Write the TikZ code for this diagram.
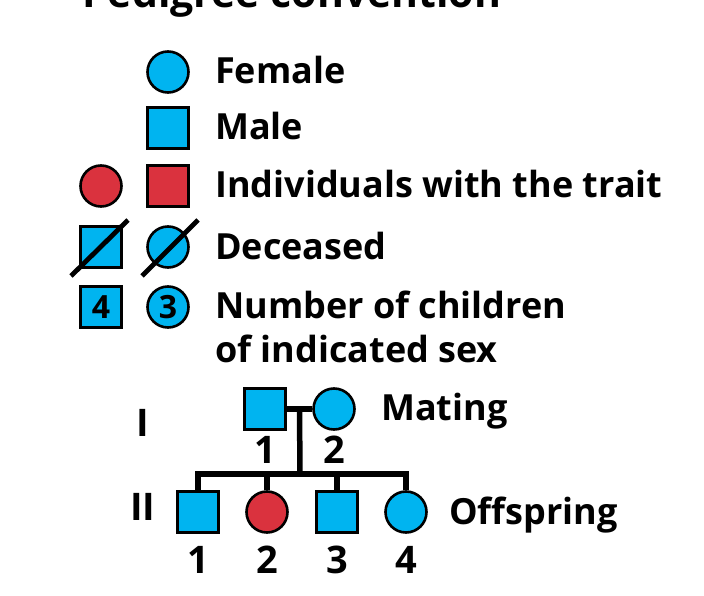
\documentclass[tikz,border=0pt]{standalone}
\usepackage{fontspec}
\setmainfont{Open Sans}
\usetikzlibrary{positioning,calc}
\definecolor{pblue}{RGB}{0,180,240}
\definecolor{pred}{RGB}{218,50,62}
\begin{document}
\begin{tikzpicture}[x=1pt,y=-1pt,font=\bfseries\fontsize{36}{43}\selectfont,
    fem/.style={circle,draw,line width=2.6pt,fill=pblue,minimum size=41pt,inner sep=0pt},
    mal/.style={rectangle,draw,line width=2.6pt,fill=pblue,minimum size=41pt,inner sep=0pt},
    lbl/.style={anchor=base west,inner sep=0pt},
    num/.style={inner sep=0pt,font=\bfseries\fontsize{38}{44}\selectfont},
    line/.style={line width=5.5pt}]
    \useasboundingbox (0,0) rectangle (704,596);
    % title, cut at the top
    \node[anchor=base west,inner sep=0pt,font=\bfseries\fontsize{41}{48}\selectfont] (title) at (82,8) {Pedigree convention};
    % legend
    \node[fem] (female) at (168,72) {};
    \node[mal] (male) at (168,128) {};
    \node[fem,fill=pred] (trF) at (101,186) {};
    \node[mal,fill=pred] (trM) at (168,186) {};
    \node[mal] (deadM) at (101,247) {};
    \node[fem] (deadF) at (168,247) {};
    \draw[line width=4.8pt] ([shift={(-30,29)}]deadM.center) -- ([shift={(27,-27)}]deadM.center);
    \draw[line width=4.8pt] ([shift={(-26,29)}]deadF.center) -- ([shift={(30,-27)}]deadF.center);
    \node[mal,font=\bfseries\fontsize{32}{36}\selectfont] (numM) at (101,307) {4};
    \node[fem,font=\bfseries\fontsize{32}{36}\selectfont] (numF) at (168,307) {3};
    \node[lbl] (tFemale) at (215,84) {Female};
    \node[lbl] (tMale) at (215,140) {Male};
    \node[lbl] (tTrait) at (215,198) {Individuals with the trait};
    \node[lbl] (tDead) at (215,259) {Deceased};
    \node[lbl] (tNum) at (215,318) {Number of children};
    \node[lbl] (tNum2) at (215,362) {of indicated sex};
    % pedigree
    \node[num] (genI) at (143,423) {I};
    \node[num] (genII) at (143,507) {II};
    \node[mal] (p1) at (265,409) {};
    \node[fem] (p2) at (334,409) {};
    \node[num,below=5pt of p1] (n1) {1};
    \node[num,below=5pt of p2] (n2) {2};
    \node[lbl] (tMate) at (381,420) {Mating};
    \coordinate (mid) at ($(p1.east)!0.5!(p2.west)$);
    \node[mal] (c1) at (198,512) {};
    \node[fem,fill=pred] (c2) at (267,512) {};
    \node[mal] (c3) at (337,512) {};
    \node[fem] (c4) at (406,512) {};
    \foreach \i in {1,...,4}
        \node[num,below=12pt of c\i] (m\i) {\i};
    \node[lbl] (tOff) at (449,524) {Offspring};
    \coordinate (sib) at (300,474);
    \draw[line] (p1.east) -- (p2.west);
    \draw[line] (mid) -- (sib);
    \draw[line] (c1.north) |- (sib) -| (c4.north);
    \draw[line] (c2.north) -- (c2.north |- sib);
    \draw[line] (c3.north) -- (c3.north |- sib);
\end{tikzpicture}
\end{document}
